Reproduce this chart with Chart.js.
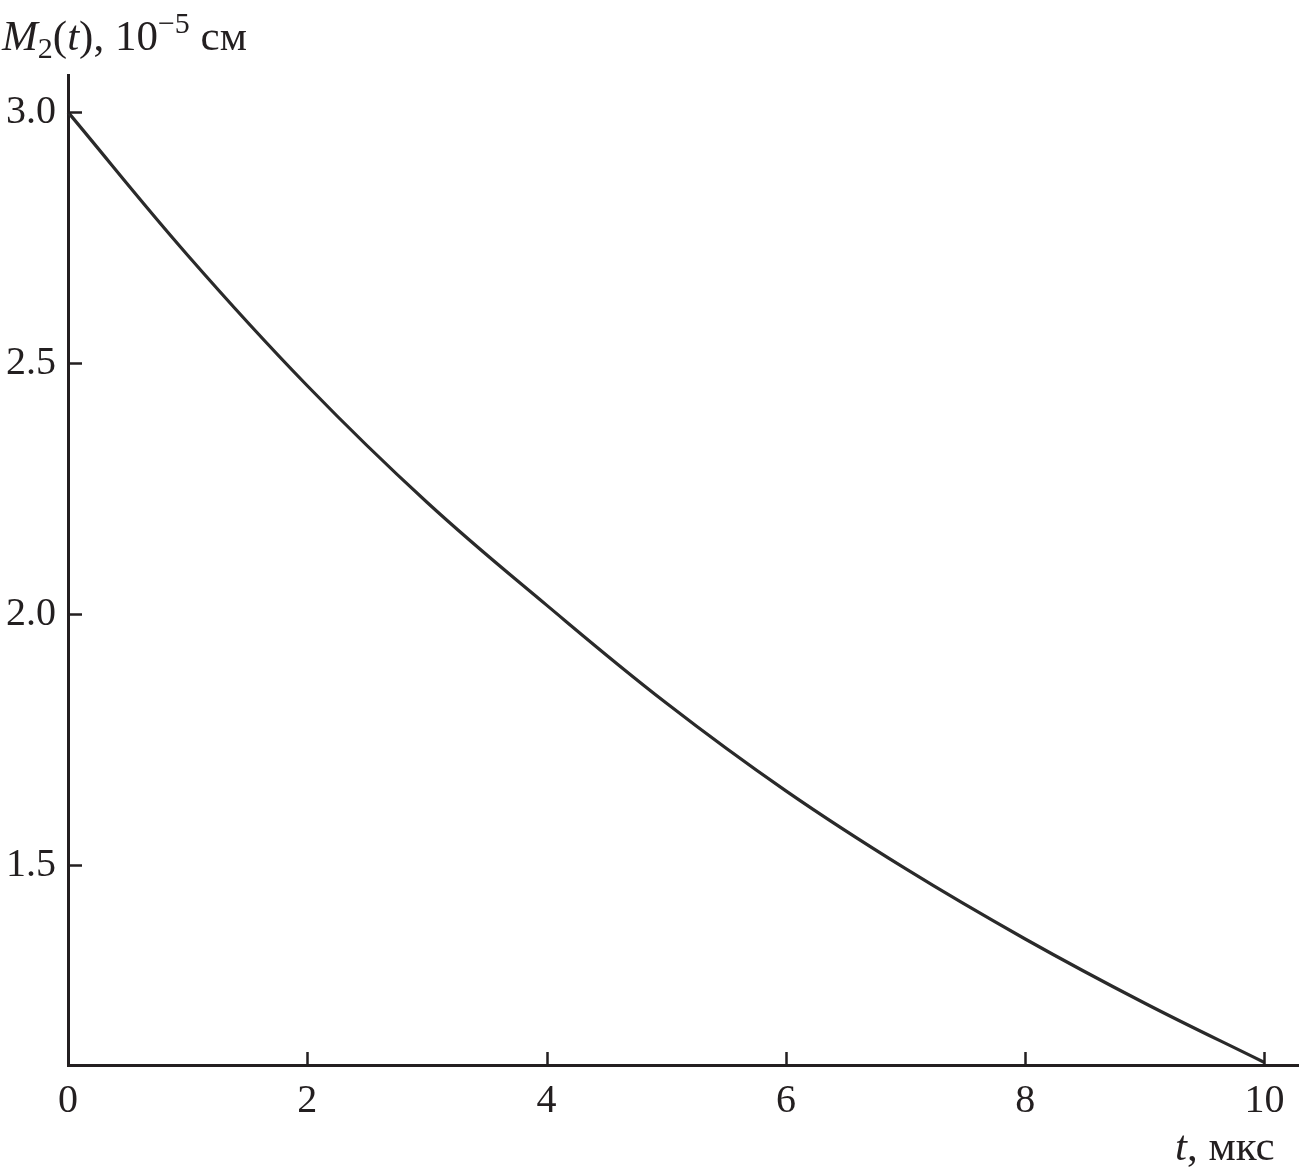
<!DOCTYPE html>
<html>
<head>
<meta charset="utf-8">
<script src="https://cdn.jsdelivr.net/npm/chart.js@4.4.0/dist/chart.umd.min.js"></script>
<style>
  html, body { margin: 0; padding: 0; background: #fff; }
  #wrap { width: 1307px; height: 1176px; }
</style>
</head>
<body>
<div id="wrap"><canvas id="myChart" width="1307" height="1176"></canvas></div>
<script>
// t, мкс  /  M2(t), 10^-5 см
const timeValues = [0, 1, 2, 3, 4, 5, 6, 7, 8, 9, 10];
const momentValues = [3.0, 2.715, 2.455, 2.223, 2.018, 1.823, 1.648, 1.493, 1.353, 1.225, 1.107];
const xTicks = [0, 2, 4, 6, 8, 10];
const yTicks = [1.5, 2.0, 2.5, 3.0];

const ink = '#231f20';
const serif = "'Liberation Serif', 'Times New Roman', serif";
Chart.defaults.font.family = serif;
Chart.defaults.color = ink;

// draws pieces of text one after another (for sub/superscripts)
function drawPieces(ctx, x, y, pieces) {
    pieces.forEach(function (p) {
        ctx.font = (p.italic ? 'italic ' : '') + p.size + 'px ' + serif;
        ctx.fillText(p.text, x, y + (p.dy || 0));
        x += ctx.measureText(p.text).width;
    });
}

// inward tick marks and axis titles
const axisExtras = {
    id: 'axisExtras',
    afterDraw: function (chart) {
        const ctx = chart.ctx;
        const xs = chart.scales.x;
        const ys = chart.scales.y;
        const area = chart.chartArea;
        ctx.save();
        ctx.strokeStyle = ink;
        ctx.lineWidth = 2.5;
        ctx.beginPath();
        xTicks.forEach(function (v) {
            const px = Math.round(xs.getPixelForValue(v)) + 0.5;
            ctx.moveTo(px, area.bottom);
            ctx.lineTo(px, area.bottom - 13);
        });
        yTicks.forEach(function (v) {
            const py = Math.round(ys.getPixelForValue(v)) + 0.5;
            ctx.moveTo(area.left, py);
            ctx.lineTo(area.left + 14, py);
        });
        ctx.stroke();

        ctx.fillStyle = ink;
        ctx.textBaseline = 'alphabetic';
        ctx.textAlign = 'left';
        drawPieces(ctx, 2, 50, [
            { text: 'M', size: 43, italic: true },
            { text: '2', size: 30, dy: 8 },
            { text: '(', size: 43 },
            { text: 't', size: 43, italic: true },
            { text: '), 10', size: 43 },
            { text: '\u22125', size: 30, dy: -17 },
            { text: ' см', size: 43 }
        ]);
        drawPieces(ctx, 1175, 1160, [
            { text: 't', size: 43, italic: true },
            { text: ', мкс', size: 43 }
        ]);
        ctx.restore();
    }
};

const ctx = document.getElementById('myChart').getContext('2d');
const myChart = new Chart(ctx, {
    type: 'line',
    data: {
        labels: timeValues,
        datasets: [{
            data: timeValues.map(function (t, i) { return { x: t, y: momentValues[i] }; }),
            borderColor: '#2a2a2a',
            borderWidth: 3.2,
            pointRadius: 0,
            tension: 0.4,
            fill: false,
            clip: false
        }]
    },
    options: {
        responsive: false,
        animation: false,
        layout: { padding: { top: 75, right: 9, left: 0, bottom: 0 } },
        plugins: {
            legend: { display: false },
            tooltip: { enabled: false }
        },
        scales: {
            x: {
                type: 'linear',
                min: 0,
                max: 10.28,
                afterBuildTicks: function (s) { s.ticks = xTicks.map(function (v) { return { value: v }; }); },
                afterFit: function (s) { s.height = 111; },
                grid: { display: false, drawTicks: false },
                border: { display: true, color: ink, width: 3 },
                ticks: { font: { size: 40 }, padding: 12, maxRotation: 0, color: ink }
            },
            y: {
                type: 'linear',
                min: 1.102,
                max: 3.074,
                afterBuildTicks: function (s) { s.ticks = yTicks.map(function (v) { return { value: v }; }); },
                afterFit: function (s) { s.width = 68; },
                grid: { display: false, drawTicks: false },
                border: { display: true, color: ink, width: 3 },
                ticks: {
                    font: { size: 40 },
                    padding: 12,
                    color: ink,
                    callback: function (v) { return Number(v).toFixed(1); }
                }
            }
        }
    },
    plugins: [axisExtras]
});
</script>
</body>
</html>
